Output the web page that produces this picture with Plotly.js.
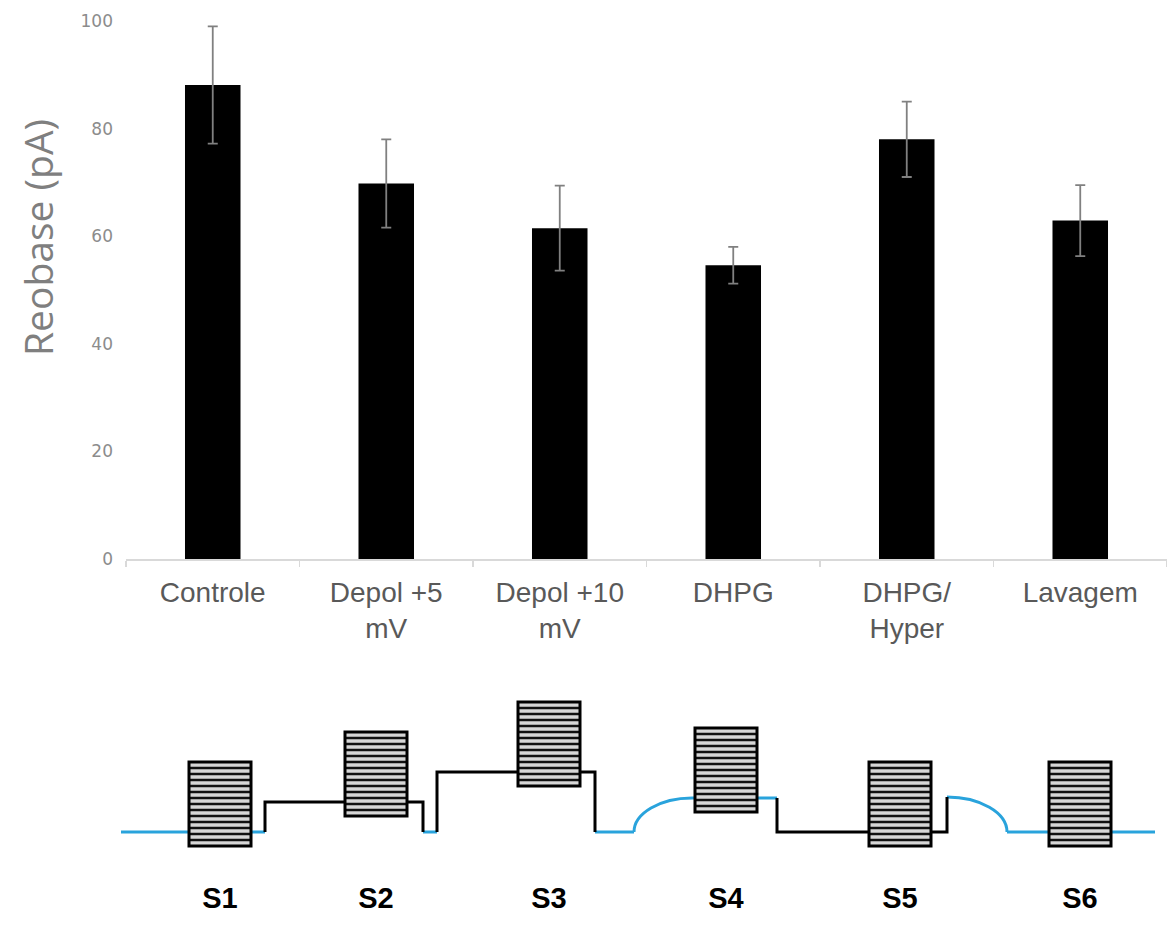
<!DOCTYPE html>
<html>
<head>
<meta charset="utf-8">
<script src="https://cdn.plot.ly/plotly-3.0.1.min.js"></script>
<style>html,body{margin:0;padding:0;background:#fff;}#chart{width:1167px;height:925px;}</style>
</head>
<body>
<div id="chart"></div>
<script>
// ---- Bar chart data ----
const categories = ['Controle', 'Depol +5<br>mV', 'Depol +10<br>mV', 'DHPG', 'DHPG/<br>Hyper', 'Lavagem'];
const reobase = [88.1, 69.8, 61.5, 54.6, 78.0, 62.9];
const reobaseErr = [10.9, 8.2, 7.9, 3.4, 7.0, 6.6];
const yTicks = [0, 20, 40, 60, 80, 100];

// ---- Protocol schematic data (time units along the protocol, holding level in mV) ----
const stages = ['S1', 'S2', 'S3', 'S4', 'S5', 'S6'];
const stimTime = [220, 376, 549, 726, 900, 1080];      // centre of each stimulus train
const stimLevel = [0, 5, 10, 5.67, 0, 0];               // holding level under each train
const stimSpanUp = 11.67, stimSpanDown = 2.33;          // train extent above / below level
const stimHalfWidth = 31;
const stimSteps = 14;

// holding command (black) and free membrane potential (blue)
const blackX = [265, 265, 423, 423, null, 437, 437, 595, 595, null, 777, 777, 947, 947];
const blackY = [0, 5, 5, 0, null, 0, 10, 10, 0, null, 5.67, 0, 0, 5.83];
const blueX = [121, 265, null, 423, 437, null, 595, 634, null, 692, 777, null, 1007, 1155];
const blueY = [0, 0, null, 0, 0, null, 0, 0, null, 5.67, 5.67, null, 0, 0];
// DHPG depolarisation rise and its decay (start, end points)
const riseCurve = {x: [634, 692], y: [0, 5.67]};
const decayCurve = {x: [947, 1007], y: [5.83, 0]};
const labelLevel = -11.5;

const W = 1167, H = 925;
const BLUE = '#29a3dc';

const traces = [
  {
    type: 'bar', x: categories, y: reobase, width: 0.32,
    marker: {color: '#000000', line: {width: 0}},
    error_y: {type: 'data', array: reobaseErr, visible: true, color: '#808080', thickness: 1.8, width: 5},
    xaxis: 'x', yaxis: 'y', hoverinfo: 'x+y'
  },
  {
    type: 'scatter', mode: 'lines', x: blueX, y: blueY, xaxis: 'x2', yaxis: 'y2',
    line: {color: BLUE, width: 3}, connectgaps: false, hoverinfo: 'skip'
  },
  {
    type: 'scatter', mode: 'lines', x: blackX, y: blackY, xaxis: 'x2', yaxis: 'y2',
    line: {color: '#000000', width: 3}, connectgaps: false, hoverinfo: 'skip'
  },
  {
    type: 'scatter', mode: 'text', x: stimTime, y: stages.map(() => labelLevel), text: stages,
    xaxis: 'x2', yaxis: 'y2',
    textfont: {family: 'Liberation Sans Narrow, Arial Narrow, Liberation Sans, Arial, sans-serif', size: 29, color: '#000000', weight: 700},
    hoverinfo: 'skip'
  }
];

const shapes = [];
// curves (quarter-ellipse-like) built with Bezier paths in data coordinates
function quarterPath(c, riseFirst) {
  const x0 = c.x[0], x1 = c.x[1], y0 = c.y[0], y1 = c.y[1];
  const k = 0.55;
  let p;
  if (riseFirst) { // steep at start, flat at end
    p = `M${x0},${y0} C${x0},${y0 + (y1 - y0) * k} ${x1 - (x1 - x0) * k},${y1} ${x1},${y1}`;
  } else {         // flat at start, steep at end
    p = `M${x0},${y0} C${x0 + (x1 - x0) * k},${y0} ${x1},${y0 + (y1 - y0) * (1 - k)} ${x1},${y1}`;
  }
  return {type: 'path', path: p, xref: 'x2', yref: 'y2', line: {color: BLUE, width: 3}, layer: 'below'};
}
shapes.push(quarterPath(riseCurve, true));
shapes.push(quarterPath(decayCurve, false));

// stimulus trains: striped boxes
stimTime.forEach((t, i) => {
  const lo = stimLevel[i] - stimSpanDown, hi = stimLevel[i] + stimSpanUp;
  const x0 = t - stimHalfWidth, x1 = t + stimHalfWidth;
  shapes.push({type: 'rect', xref: 'x2', yref: 'y2', x0: x0, x1: x1, y0: lo, y1: hi,
    fillcolor: '#d6d6d6', line: {width: 0}, layer: 'above'});
  for (let k = 1; k < stimSteps; k++) {
    const yy = lo + (hi - lo) * k / stimSteps;
    shapes.push({type: 'line', xref: 'x2', yref: 'y2', x0: x0, x1: x1, y0: yy, y1: yy,
      line: {color: '#111111', width: 2.5}, layer: 'above'});
  }
  shapes.push({type: 'rect', xref: 'x2', yref: 'y2', x0: x0, x1: x1, y0: lo, y1: hi,
    fillcolor: 'rgba(0,0,0,0)', line: {color: '#000000', width: 3}, layer: 'above'});
});

const yTop = 21, yZero = 559;
const layout = {
  width: W, height: H,
  margin: {l: 0, r: 0, t: 0, b: 0, pad: 0},
  paper_bgcolor: '#ffffff', plot_bgcolor: 'rgba(0,0,0,0)',
  showlegend: false,
  xaxis: {
    domain: [126 / W, 1], anchor: 'y', type: 'category',
    showline: true, linecolor: '#d9d9d9', linewidth: 2,
    ticks: 'outside', tickson: 'boundaries', ticklen: 6, tickcolor: '#d9d9d9', tickwidth: 1.5,
    showgrid: false, zeroline: false,
    tickfont: {family: 'Liberation Sans, Arial, sans-serif', size: 28, color: '#595959'},
    ticklabelstandoff: 7, fixedrange: true
  },
  yaxis: {
    domain: [(H - yZero) / H, (H - yTop) / H], anchor: 'x',
    range: [0, 100], tickvals: yTicks, ticktext: yTicks.map(String),
    showgrid: false, zeroline: false, showline: false, ticks: '',
    tickfont: {family: 'DejaVu Sans, sans-serif', size: 17, color: '#8c8c8c'},
    ticklabelstandoff: 12, fixedrange: true
  },
  xaxis2: {domain: [0, 1], anchor: 'y2', range: [0, W], visible: false, fixedrange: true},
  yaxis2: {domain: [0, 245 / H], anchor: 'x2', range: [-15.5, 25.333], visible: false, fixedrange: true},
  shapes: shapes,
  annotations: [{
    text: 'Reobase (pA)', xref: 'paper', yref: 'paper', x: 37 / W, y: (H - 238) / H,
    xanchor: 'center', yanchor: 'middle', textangle: -90, showarrow: false,
    font: {family: 'Open Sans, Noto Sans, sans-serif', size: 39, color: '#7f7f7f'}
  }]
};

Plotly.newPlot('chart', traces, layout, {displayModeBar: false, staticPlot: true});
</script>
</body>
</html>
